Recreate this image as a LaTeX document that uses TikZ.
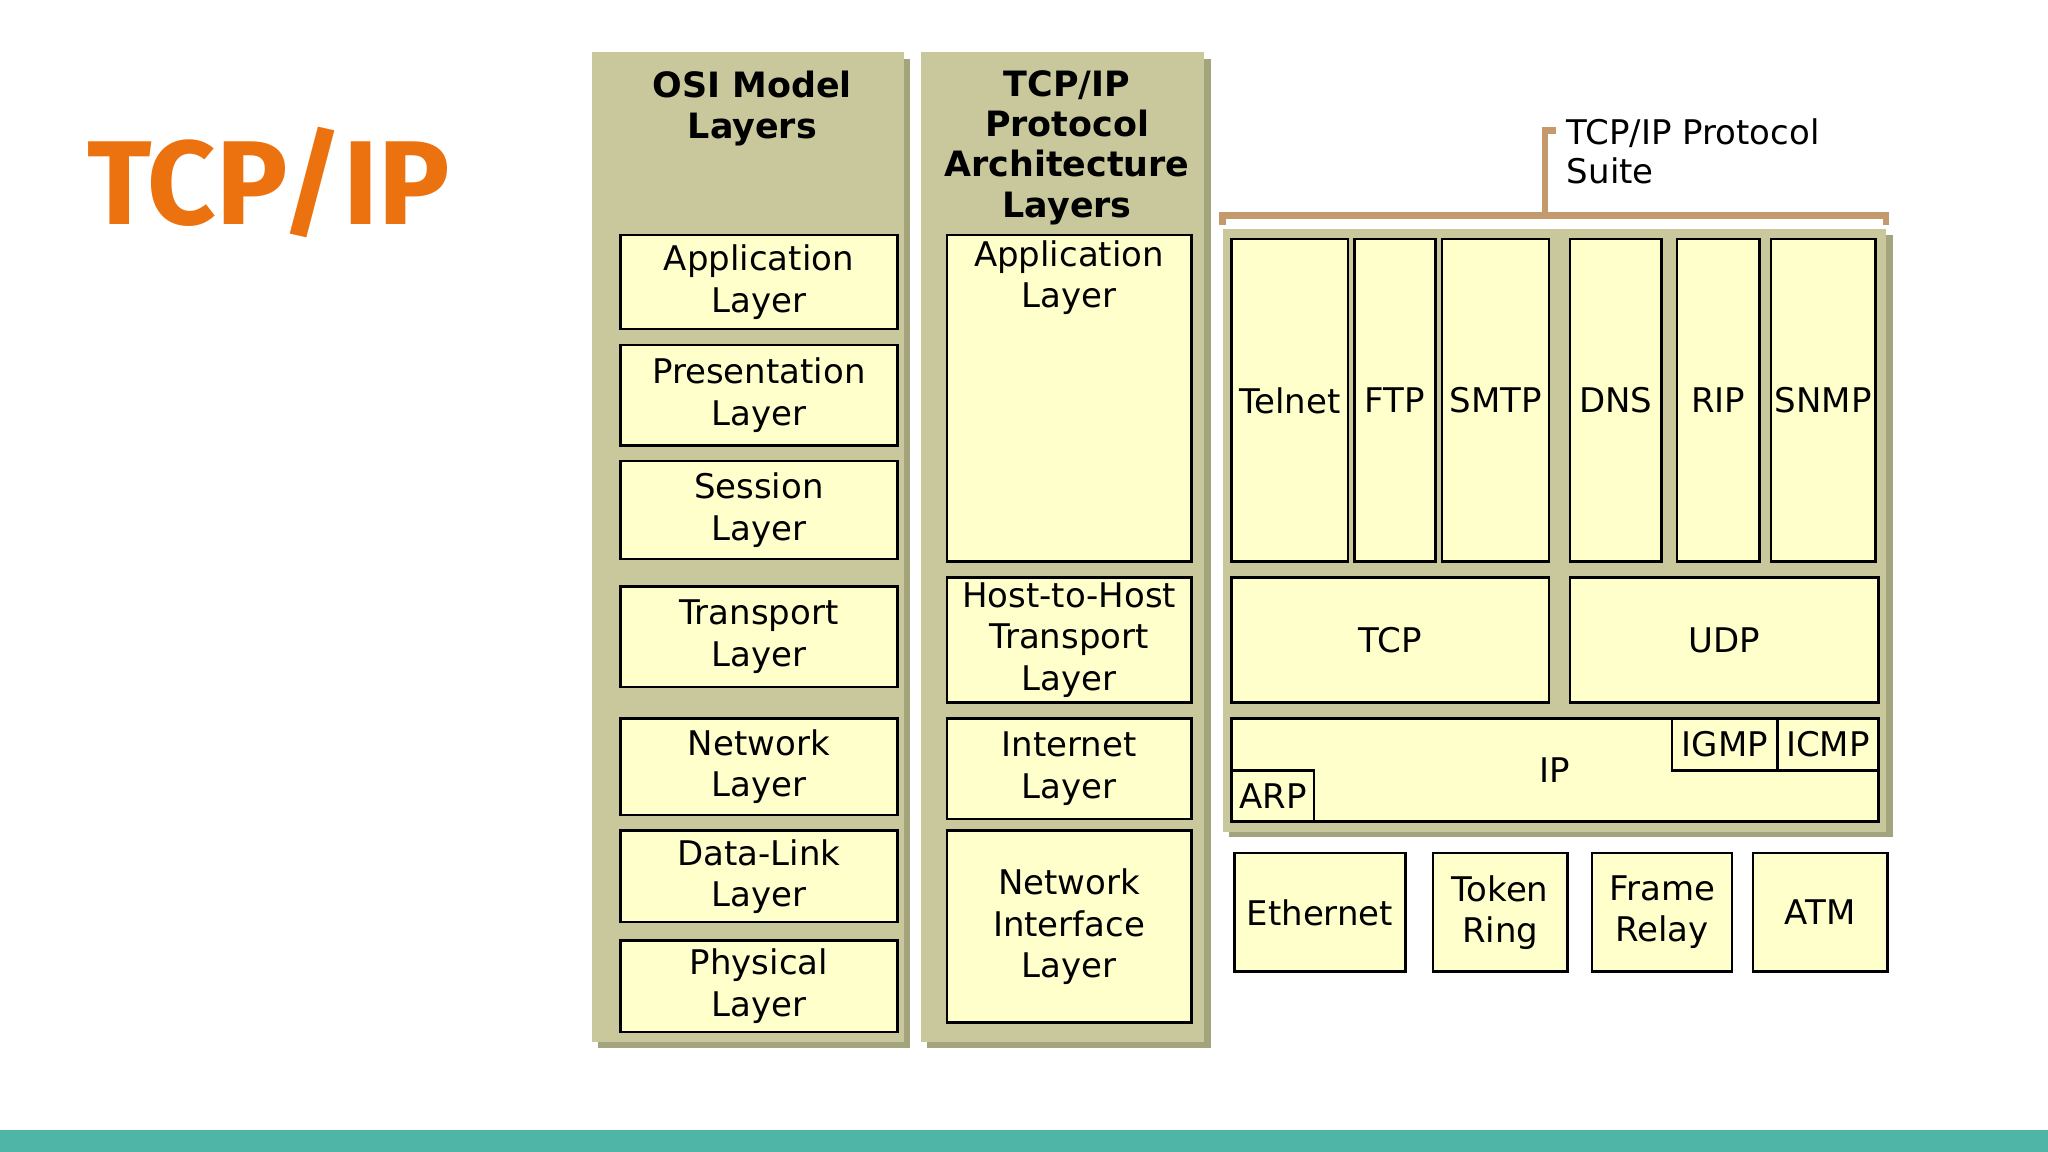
\documentclass[tikz,border=0pt]{standalone}
\usepackage{fontspec}
\setmainfont{DejaVu Sans}
\newfontfamily\titlefont{Fira Sans}
\definecolor{panel}{HTML}{C8C89C}
\definecolor{panelshadow}{HTML}{A4A47C}
\definecolor{boxfill}{HTML}{FFFFCC}
\definecolor{bracketc}{HTML}{C49A6C}
\definecolor{titlec}{HTML}{EC7210}
\definecolor{barc}{HTML}{4FB5A6}
\newcommand{\bx}[6]{%
  \pgfmathsetmacro{\bw}{(#4-#2)*0.1}%
  \pgfmathsetmacro{\bh}{(#5-#3)*0.1}%
  \node[box, minimum width=\bw mm, minimum height=\bh mm] (#1) at ({(#2+#4)/2},{(#3+#5)/2}) {#6};}
\newcommand{\pnl}[4]{%
  \fill[panelshadow] (#1+5,#2+5) rectangle (#3+5,#4+4);
  \fill[panel] (#1,#2) rectangle (#3,#4);}
\begin{document}
\begin{tikzpicture}[x=0.1mm,y=-0.1mm,
  box/.style={draw=black, line width=0.2mm, fill=boxfill, inner sep=0pt,
    align=center, font=\fontsize{7.4}{9}\selectfont},
  head/.style={align=center, font=\bfseries\fontsize{7.6}{8.8}\selectfont, inner sep=0pt}]
\useasboundingbox (0,0) rectangle (1568,882);
\fill[white] (0,0) rectangle (1568,882);
\fill[barc] (0,865) rectangle (1568,882);
\node[anchor=west, text=titlec, font=\titlefont\bfseries\fontsize{26}{28}\selectfont, inner sep=0pt] (title) at (66,140) {TCP/IP};
% panels
\pnl{453}{40}{692}{798}
\pnl{705}{40}{922}{798}
\pnl{936}{175}{1444}{637}
\node[head] (osih) at (576,83) {OSI Model\\Layers};
\node[head] (arch) at (817,113) {TCP/IP\\Protocol\\Architecture\\Layers};
% OSI layers
\bx{app}{475}{180}{687}{252}{Application\\Layer}
\bx{pres}{475}{264}{687}{341}{Presentation\\Layer}
\bx{ses}{475}{353}{687}{428}{Session\\Layer}
\bx{tra}{475}{449}{687}{526}{Transport\\Layer}
\bx{net}{475}{550}{687}{624}{Network\\Layer}
\bx{dl}{475}{636}{687}{706}{Data-Link\\Layer}
\bx{phy}{475}{720}{687}{790}{Physical\\Layer}
% architecture layers
\bx{tapp}{725}{180}{912}{430}{}
\node[box, draw=none, fill=none, anchor=north] (tapplbl) at (tapp.north) {\rule{0pt}{2.4mm}Application\\Layer};
\bx{host}{725}{442}{912}{538}{Host-to-Host\\Transport\\Layer}
\bx{inet}{725}{550}{912}{627}{Internet\\Layer}
\bx{nif}{725}{636}{912}{783}{Network\\Interface\\Layer}
% protocol suite
\bx{telnet}{943}{183}{1032}{430}{Telnet}
\bx{ftp}{1037}{183}{1099}{430}{FTP}
\bx{smtp}{1104}{183}{1186}{430}{SMTP}
\bx{dns}{1202}{183}{1272}{430}{DNS}
\bx{rip}{1284}{183}{1347}{430}{RIP}
\bx{snmp}{1356}{183}{1436}{430}{SNMP}
\bx{tcp}{943}{442}{1186}{538}{TCP}
\bx{udp}{1202}{442}{1438}{538}{UDP}
\bx{ip}{943}{550}{1438}{629}{IP}
\bx{igmp}{1280}{550}{1361}{590}{IGMP}
\bx{icmp}{1361}{550}{1438}{590}{ICMP}
\bx{arp}{943}{590}{1006}{629}{ARP}
\bx{eth}{945}{653}{1076}{744}{Ethernet}
\bx{tok}{1097}{653}{1200}{744}{Token\\Ring}
\bx{fr}{1219}{653}{1326}{744}{Frame\\Relay}
\bx{atm}{1342}{653}{1445}{744}{ATM}
% bracket
\draw[bracketc, line width=0.5mm] (936,172) -- (936,165) -- (1444,165) -- (1444,172);
\draw[bracketc, line width=0.5mm] (1183,165) -- (1183,100) -- (1191,100);
\node[anchor=north west, align=left, inner sep=0pt, font=\fontsize{7.4}{8.6}\selectfont] (suite) at (1199,90) {TCP/IP Protocol\\Suite};
\end{tikzpicture}
\end{document}
